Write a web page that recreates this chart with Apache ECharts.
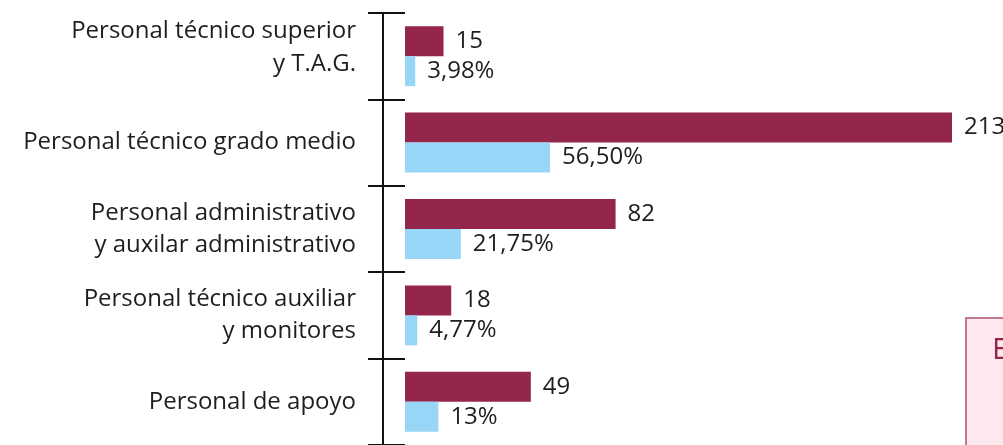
<!DOCTYPE html>
<html>
<head>
<meta charset="utf-8">
<script src="https://cdn.jsdelivr.net/npm/echarts@6/dist/echarts.min.js"></script>
<style>html,body{margin:0;padding:0;background:#fff;}#c{width:1003px;height:445px;}</style>
</head>
<body>
<div id="c"></div>
<script>
const categories = [
  "Personal técnico superior\ny T.A.G.",
  "Personal técnico grado medio",
  "Personal administrativo\ny auxilar administrativo",
  "Personal técnico auxiliar\ny monitores",
  "Personal de apoyo"
];
const counts = [15, 213, 82, 18, 49];
const percents = [3.98, 56.50, 21.75, 4.77, 13];
const percentLabels = ["3,98%", "56,50%", "21,75%", "4,77%", "13%"];

const FONT = "'Open Sans', Lato, sans-serif";
const chart = echarts.init(document.getElementById('c'), null, {renderer: 'canvas'});
chart.setOption({
  animation: false,
  backgroundColor: '#ffffff',
  grid: [
    {left: 405, right: 51, top: 13, bottom: 0, containLabel: false},
    {left: 383, right: 1003 - 384, top: 13, bottom: 0, containLabel: false}
  ],
  xAxis: [
    {type: 'value', min: 0, max: 213, show: false, gridIndex: 0},
    {type: 'value', min: 0, max: 1, show: false, gridIndex: 1}
  ],
  yAxis: [
    {
      type: 'category', data: categories, inverse: true, position: 'left', offset: 2, gridIndex: 0,
      axisLine: {show: false},
      axisTick: {show: true, inside: false, length: 37, lineStyle: {color: '#111', width: 2}},
      axisLabel: {
        margin: 47, color: '#1e1e1e', fontSize: 24, fontFamily: FONT, lineHeight: 32, align: 'right',
        formatter: (v, i) => i === 0 ? v.split('\n').map(s => '{up|' + s + '}').join('\n') + '\n{sp|}' : v,
        rich: {
          up: {fontSize: 24, fontFamily: FONT, color: '#1e1e1e', lineHeight: 33, align: 'right'},
          sp: {fontSize: 10, lineHeight: 18}
        }
      }
    },
    {
      type: 'category', data: categories, inverse: true, position: 'left', offset: 0, gridIndex: 1,
      axisLine: {show: true, lineStyle: {color: '#111', width: 2}},
      axisTick: {show: false},
      axisLabel: {show: false}
    }
  ],
  series: [
    {
      type: 'bar', name: 'Número', data: counts, xAxisIndex: 0, yAxisIndex: 0, barWidth: 30, barGap: '0%',
      itemStyle: {color: '#93264A'},
      label: {show: true, position: 'right', distance: 12, color: '#1e1e1e', fontSize: 24, fontFamily: FONT}
    },
    {
      type: 'bar', name: 'Porcentaje', data: percents, xAxisIndex: 0, yAxisIndex: 0, barWidth: 30, barGap: '0%',
      itemStyle: {color: '#97D6F6'},
      label: {show: true, position: 'right', distance: 12, color: '#1e1e1e', fontSize: 24, fontFamily: FONT,
        formatter: p => percentLabels[p.dataIndex]}
    }
  ],
  graphic: [
    {type: 'rect', left: 965, top: 317, shape: {width: 80, height: 160},
      style: {fill: '#FDE9ED', stroke: '#C07890', lineWidth: 2}},
    {type: 'text', left: 992, top: 335, style: {text: 'E', fill: '#93264A', font: '30px ' + FONT}}
  ]
});
</script>
</body>
</html>
